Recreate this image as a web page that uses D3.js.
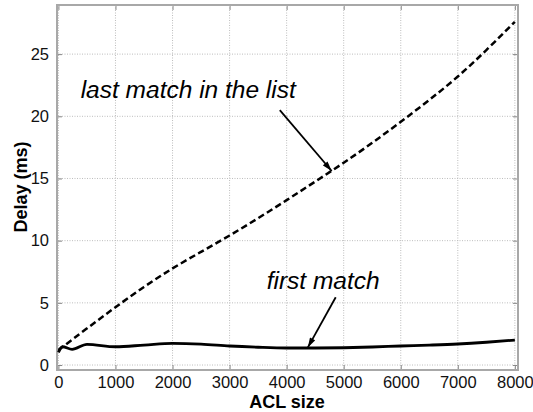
<!DOCTYPE html>
<html>
<head>
<meta charset="utf-8">
<script src="https://cdn.jsdelivr.net/npm/d3@7"></script>
<style>
	body { margin: 0; background: #fff; }
	svg { display: block; font-family: "Liberation Sans", Arial, sans-serif; }
</style>
</head>
<body>
<div id="chart"></div>
<script>
// data
const aclSizeFirst = [0, 70, 240, 500, 1000, 1500, 2000, 2500, 3000, 3500, 4000, 4500, 5000, 5500, 6000, 6500, 7000, 7500, 8000];
const delayFirst = [1.02, 1.47, 1.26, 1.66, 1.47, 1.6, 1.74, 1.68, 1.53, 1.43, 1.37, 1.37, 1.39, 1.45, 1.53, 1.6, 1.69, 1.83, 2.01];

const aclSizeLast = [0, 500, 1000, 1500, 2000, 2500, 3000, 3500, 4000, 4500, 5000, 5500, 6000, 6500, 7000, 7500, 8000];
const delayLast = [1.2, 2.95, 4.66, 6.3, 7.8, 9.1, 10.4, 11.8, 13.25, 14.75, 16.25, 17.85, 19.55, 21.3, 23.15, 25.3, 27.6];

const xTicks = [0, 1000, 2000, 3000, 4000, 5000, 6000, 7000, 8000];
const yTicks = [0, 5, 10, 15, 20, 25];

// annotations: [label, text x, text y, arrow from x, from y, arrow to x, to y]
const notes = [
	["last match in the list", 390, 21.5, 3880, 20.5, 4790, 15.6],
	["first match", 3650, 6.1, 4860, 5.45, 4370, 1.4]
];

const W = 533, H = 412;
const M = { L: 57, R: 15, T: 5, B: 42 };

const svg = d3.select('#chart').append('svg')
	.attr('width', W)
	.attr('height', H);

const x = d3.scaleLinear().domain([-25, 8055]).range([M.L, W - M.R]);
const y = d3.scaleLinear().domain([-0.4, 28.95]).range([H - M.B, M.T]);

// grid
svg.append('g')
	.selectAll('line')
	.data(xTicks)
	.join('line')
	.attr('x1', d => x(d)).attr('x2', d => x(d))
	.attr('y1', M.T).attr('y2', H - M.B)
	.attr('stroke', '#bdbdbd')
	.attr('stroke-dasharray', '1,1.5');

svg.append('g')
	.selectAll('line')
	.data(yTicks)
	.join('line')
	.attr('x1', M.L).attr('x2', W - M.R)
	.attr('y1', d => y(d)).attr('y2', d => y(d))
	.attr('stroke', '#bdbdbd')
	.attr('stroke-dasharray', '1,1.5');

// axes with inner ticks
svg.append('g')
	.attr('transform', 'translate(0,' + (H - M.B) + ')')
	.call(d3.axisBottom(x).tickValues(xTicks).tickFormat(d3.format('d')).tickSizeInner(-5).tickSizeOuter(0).tickPadding(6));
svg.append('g')
	.attr('transform', 'translate(' + M.L + ',0)')
	.call(d3.axisLeft(y).tickValues(yTicks).tickFormat(d3.format('d')).tickSizeInner(-5).tickSizeOuter(0).tickPadding(8));
svg.append('g')
	.attr('transform', 'translate(0,' + M.T + ')')
	.call(d3.axisTop(x).tickValues(xTicks).tickSizeInner(-5).tickSizeOuter(0).tickFormat(''));
svg.append('g')
	.attr('transform', 'translate(' + (W - M.R) + ',0)')
	.call(d3.axisRight(y).tickValues(yTicks).tickSizeInner(-5).tickSizeOuter(0).tickFormat(''));

svg.selectAll('.domain').remove();
svg.selectAll('.tick line').attr('stroke', '#888');
svg.selectAll('.tick text')
	.attr('fill', '#111')
	.style('font-size', '16.5px')
	.style('font-family', '"Liberation Sans", Arial, sans-serif');

// box
svg.append('rect')
	.attr('x', M.L).attr('y', M.T)
	.attr('width', W - M.R - M.L).attr('height', H - M.B - M.T)
	.attr('fill', 'none')
	.attr('stroke', '#a8a8a8')
	.attr('stroke-width', 2);

// lines
const line = d3.line().curve(d3.curveBasis);

svg.append('path')
	.attr('d', line(aclSizeLast.map((d, i) => [x(d), y(delayLast[i])])))
	.attr('fill', 'none')
	.attr('stroke', '#000')
	.attr('stroke-width', 2.5)
	.attr('stroke-dasharray', '6.5,3.5');

svg.append('path')
	.attr('d', d3.line().curve(d3.curveMonotoneX)(aclSizeFirst.map((d, i) => [x(d), y(delayFirst[i])])))
	.attr('fill', 'none')
	.attr('stroke', '#000')
	.attr('stroke-width', 2.8);

// axis titles
svg.append('text')
	.attr('x', 287).attr('y', 408)
	.attr('text-anchor', 'middle')
	.style('font-size', '18px').style('font-weight', 'bold')
	.text('ACL size');

svg.append('text')
	.attr('transform', 'translate(27,187) rotate(-90)')
	.attr('text-anchor', 'middle')
	.style('font-size', '18px').style('font-weight', 'bold')
	.text('Delay (ms)');

// annotations
svg.append('defs').append('marker')
	.attr('id', 'arrow')
	.attr('viewBox', '0 0 10 6')
	.attr('refX', 10).attr('refY', 3)
	.attr('markerWidth', 11).attr('markerHeight', 6)
	.attr('markerUnits', 'userSpaceOnUse')
	.attr('orient', 'auto')
	.append('path')
	.attr('d', 'M0,0 L10,3 L0,6 Z')
	.attr('fill', '#000');

const note = svg.append('g').selectAll('g')
	.data(notes)
	.join('g');

note.append('text')
	.attr('x', d => x(d[1])).attr('y', d => y(d[2]))
	.style('font-size', '24.5px').style('font-style', 'italic')
	.text(d => d[0]);

note.append('line')
	.attr('x1', d => x(d[3])).attr('y1', d => y(d[4]))
	.attr('x2', d => x(d[5])).attr('y2', d => y(d[6]))
	.attr('stroke', '#000')
	.attr('stroke-width', 1.8)
	.attr('marker-end', 'url(#arrow)');
</script>
</body>
</html>
